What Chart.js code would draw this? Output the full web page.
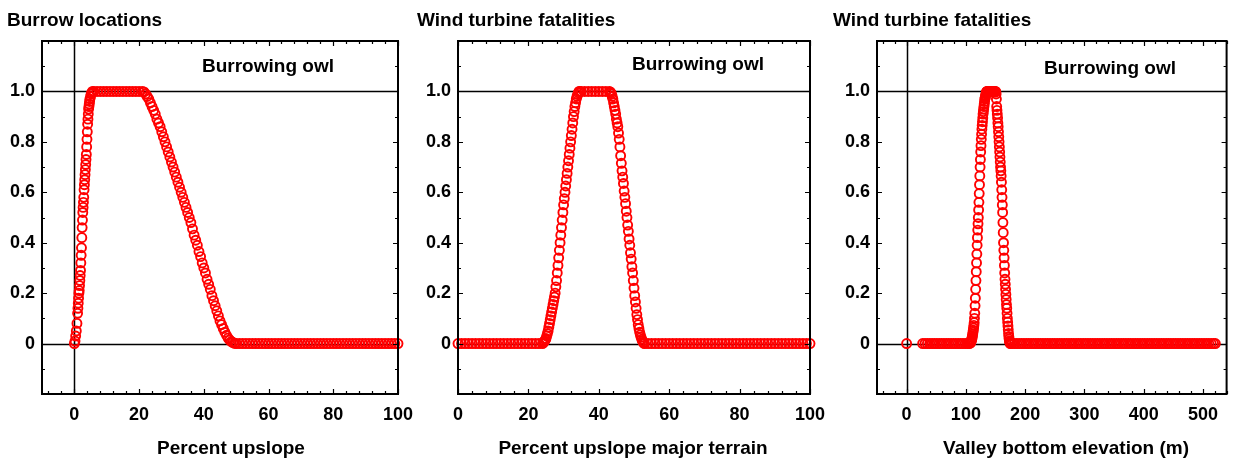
<!DOCTYPE html>
<html>
<head>
<meta charset="utf-8">
<script src="https://cdn.jsdelivr.net/npm/chart.js@4.4.1/dist/chart.umd.min.js"></script>
<style>
  html, body { margin: 0; padding: 0; background: #fff; }
  #wrap { position: relative; width: 1233px; height: 461px; overflow: hidden; background: #fff; }
  #wrap canvas { position: absolute; top: 0; }
</style>
</head>
<body>
<div id="wrap">
  <canvas id="c1" width="440" height="461" style="left:0px"></canvas>
  <canvas id="c2" width="440" height="461" style="left:411px"></canvas>
  <canvas id="c3" width="411" height="461" style="left:822px"></canvas>
</div>
<script>
// ---- Burrow locations vs percent upslope ----
const upslopeX = [
  0, 0.2, 0.4, 0.6, 0.8, 1.0, 1.1, 1.2, 1.3, 1.4, 1.5, 1.6, 1.7, 1.8, 1.9, 2.0, 2.1, 2.2, 2.3, 2.4,
  2.5, 2.6, 2.7, 2.8, 2.9, 3.0, 3.1, 3.2, 3.3, 3.4, 3.5, 3.6, 3.7, 3.8, 3.9, 4.0, 4.1, 4.2, 4.3, 4.4,
  4.5, 4.6, 4.7, 4.8, 5.0, 5.2, 5.4, 5.6,
  6, 7, 8, 9, 10, 11, 12, 13, 14, 15, 16, 17, 18, 19, 20, 21,
  21.5, 22, 22.5, 23, 23.5, 24, 24.5, 25, 25.5, 26, 26.5, 27, 27.5, 28, 28.5, 29, 29.5, 30, 30.5, 31,
  31.5, 32, 32.5, 33, 33.5, 34, 34.5, 35, 35.5, 36, 36.5, 37, 37.5, 38, 38.5, 39, 39.5, 40, 40.5, 41,
  41.5, 42, 42.5, 43, 43.5, 44, 44.5, 45, 45.5, 46, 46.5, 47, 47.5, 48, 48.5, 49, 49.5, 50,
  51, 52, 53, 54, 55, 56, 57, 58, 59, 60, 61, 62, 63, 64, 65, 66, 67, 68, 69, 70, 71, 72, 73, 74, 75,
  76, 77, 78, 79, 80, 81, 82, 83, 84, 85, 86, 87, 88, 89, 90, 91, 92, 93, 94, 95, 96, 97, 98, 99, 100
];
const upslopeY = [
  0, 0.01, 0.03, 0.05, 0.08, 0.12, 0.14, 0.16, 0.18, 0.20, 0.21, 0.23, 0.25, 0.27, 0.29, 0.32, 0.35, 0.38, 0.42, 0.46,
  0.49, 0.52, 0.54, 0.56, 0.58, 0.61, 0.63, 0.65, 0.67, 0.69, 0.71, 0.73, 0.75, 0.78, 0.81, 0.84, 0.87, 0.89, 0.91, 0.93,
  0.94, 0.95, 0.96, 0.97, 0.98, 0.99, 0.995, 1,
  1, 1, 1, 1, 1, 1, 1, 1, 1, 1, 1, 1, 1, 1, 1, 1,
  0.998, 0.99, 0.98, 0.97, 0.955, 0.94, 0.925, 0.91, 0.89, 0.875, 0.86, 0.84, 0.82, 0.80, 0.78, 0.76, 0.74, 0.72, 0.70, 0.68,
  0.66, 0.64, 0.62, 0.60, 0.58, 0.56, 0.54, 0.52, 0.50, 0.48, 0.455, 0.43, 0.41, 0.39, 0.365, 0.345, 0.32, 0.30, 0.28, 0.255,
  0.235, 0.215, 0.19, 0.17, 0.15, 0.13, 0.11, 0.09, 0.075, 0.06, 0.045, 0.033, 0.022, 0.014, 0.008, 0.004, 0.001, 0,
  0, 0, 0, 0, 0, 0, 0, 0, 0, 0, 0, 0, 0, 0, 0, 0, 0, 0, 0, 0, 0, 0, 0, 0, 0,
  0, 0, 0, 0, 0, 0, 0, 0, 0, 0, 0, 0, 0, 0, 0, 0, 0, 0, 0, 0, 0, 0, 0, 0, 0
];

// ---- Wind turbine fatalities vs percent upslope of major terrain ----
const terrainX = [
  0, 1, 2, 3, 4, 5, 6, 7, 8, 9, 10, 11, 12, 13, 14, 15, 16, 17, 18, 19, 20, 21, 22, 23, 24,
  24.2, 24.4, 24.6, 24.8, 25, 25.2, 25.4, 25.6, 25.8, 26, 26.2, 26.4, 26.6, 26.8, 27, 27.2, 27.4, 27.6, 27.8, 28,
  28.2, 28.4, 28.6, 28.8, 29, 29.2, 29.4, 29.6, 29.8, 30, 30.2, 30.4, 30.6, 30.8, 31, 31.2, 31.4, 31.6, 31.8, 32,
  32.2, 32.4, 32.6, 32.8, 33, 33.2, 33.4, 33.6, 33.8, 34, 34.2, 34.4, 34.6,
  35, 36, 37, 38, 39, 40, 41, 42, 43,
  43.2, 43.4, 43.6, 43.8, 44, 44.2, 44.4, 44.6, 44.8, 45, 45.2, 45.4, 45.6, 45.8, 46, 46.2, 46.4, 46.6, 46.8, 47,
  47.2, 47.4, 47.6, 47.8, 48, 48.2, 48.4, 48.6, 48.8, 49, 49.2, 49.4, 49.6, 49.8, 50, 50.2, 50.4, 50.6, 50.8, 51,
  51.2, 51.4, 51.6, 51.8, 52, 52.2, 52.4, 52.6, 52.8, 53,
  54, 55, 56, 57, 58, 59, 60, 61, 62, 63, 64, 65, 66, 67, 68, 69, 70, 71, 72, 73, 74, 75, 76, 77,
  78, 79, 80, 81, 82, 83, 84, 85, 86, 87, 88, 89, 90, 91, 92, 93, 94, 95, 96, 97, 98, 99, 100
];
const terrainY = [
  0, 0, 0, 0, 0, 0, 0, 0, 0, 0, 0, 0, 0, 0, 0, 0, 0, 0, 0, 0, 0, 0, 0, 0, 0,
  0.003, 0.006, 0.01, 0.015, 0.02, 0.03, 0.04, 0.05, 0.065, 0.08, 0.095, 0.11, 0.125, 0.14, 0.155, 0.17, 0.185, 0.20, 0.225, 0.25,
  0.28, 0.31, 0.34, 0.37, 0.40, 0.43, 0.46, 0.49, 0.52, 0.55, 0.575, 0.60, 0.625, 0.65, 0.675, 0.70, 0.725, 0.75, 0.775, 0.80,
  0.825, 0.85, 0.875, 0.90, 0.92, 0.94, 0.955, 0.97, 0.98, 0.988, 0.995, 1, 1,
  1, 1, 1, 1, 1, 1, 1, 1, 1,
  0.998, 0.995, 0.99, 0.98, 0.97, 0.955, 0.94, 0.925, 0.91, 0.89, 0.875, 0.86, 0.835, 0.81, 0.78, 0.745, 0.715, 0.685, 0.66, 0.635,
  0.605, 0.58, 0.555, 0.525, 0.50, 0.47, 0.445, 0.415, 0.39, 0.36, 0.335, 0.305, 0.28, 0.25, 0.22, 0.19, 0.165, 0.14, 0.115, 0.095,
  0.075, 0.06, 0.045, 0.035, 0.025, 0.017, 0.01, 0.005, 0.002, 0,
  0, 0, 0, 0, 0, 0, 0, 0, 0, 0, 0, 0, 0, 0, 0, 0, 0, 0, 0, 0, 0, 0, 0, 0,
  0, 0, 0, 0, 0, 0, 0, 0, 0, 0, 0, 0, 0, 0, 0, 0, 0, 0, 0, 0, 0, 0, 0
];

// ---- Wind turbine fatalities vs valley bottom elevation (m) ----
const elevationX = [
  0,
  27, 31, 35, 39, 43, 47, 51, 55, 59, 63, 67, 71, 75, 79, 83, 87, 91, 95, 99, 103, 106,
  108, 108.5, 109, 109.5, 110, 110.5, 111, 111.5, 112, 112.5, 113, 113.5, 114, 114.5, 115, 115.5, 116, 116.5, 117, 117.5,
  118, 118.5, 119, 119.5, 120, 120.5, 121, 121.5, 122, 122.5, 123, 123.5, 124, 124.5, 125, 125.5, 126, 126.5, 127, 127.5,
  128, 128.5, 129, 129.5, 130, 130.5, 131, 131.5, 132, 132.5, 133, 133.5, 134, 134.5, 135, 135.5,
  136, 137, 138, 139, 140, 141, 142, 143, 144, 145, 146, 147, 148, 149, 150,
  150.5, 151, 151.5, 152, 152.5, 153, 153.5, 154, 154.5, 155, 155.5, 156, 156.5, 157, 157.5, 158, 158.5, 159, 159.5, 160,
  160.5, 161, 161.5, 162, 162.5, 163, 163.5, 164, 164.5, 165, 165.5, 166, 166.5, 167, 167.5, 168, 168.5, 169, 169.5, 170,
  170.5, 171, 171.5, 172, 172.5, 173, 173.5, 174, 174.5, 175,
  178, 182, 186, 190, 194, 198, 202, 206, 210, 214, 218, 222, 226, 230, 234, 238, 242, 246, 250, 254,
  258, 262, 266, 270, 274, 278, 282, 286, 290, 294, 298, 302, 306, 310, 314, 318, 322, 326, 330, 334,
  338, 342, 346, 350, 354, 358, 362, 366, 370, 374, 378, 382, 386, 390, 394, 398, 402, 406, 410, 414,
  418, 422, 426, 430, 434, 438, 442, 446, 450, 454, 458, 462, 466, 470, 474, 478, 482, 486, 490, 494,
  498, 502, 506, 510, 514, 518, 521
];
const elevationY = [
  0,
  0, 0, 0, 0, 0, 0, 0, 0, 0, 0, 0, 0, 0, 0, 0, 0, 0, 0, 0, 0, 0,
  0.003, 0.006, 0.01, 0.014, 0.018, 0.024, 0.03, 0.037, 0.045, 0.053, 0.062, 0.072, 0.083, 0.10, 0.12, 0.15, 0.18, 0.215, 0.25, 0.285,
  0.32, 0.355, 0.39, 0.42, 0.45, 0.475, 0.50, 0.53, 0.56, 0.595, 0.63, 0.665, 0.70, 0.73, 0.76, 0.785, 0.81, 0.83, 0.85, 0.865,
  0.88, 0.895, 0.91, 0.92, 0.93, 0.94, 0.95, 0.96, 0.97, 0.975, 0.98, 0.985, 0.99, 0.995, 0.998, 1,
  1, 1, 1, 1, 1, 1, 1, 1, 1, 1, 1, 1, 1, 1, 1,
  0.998, 0.99, 0.97, 0.94, 0.925, 0.91, 0.895, 0.875, 0.86, 0.84, 0.82, 0.80, 0.78, 0.76, 0.74, 0.72, 0.70, 0.685, 0.665, 0.64,
  0.61, 0.58, 0.55, 0.52, 0.48, 0.44, 0.40, 0.37, 0.34, 0.31, 0.28, 0.255, 0.235, 0.215, 0.195, 0.175, 0.155, 0.14, 0.12, 0.10,
  0.085, 0.07, 0.055, 0.04, 0.028, 0.018, 0.01, 0.005, 0.002, 0,
  0, 0, 0, 0, 0, 0, 0, 0, 0, 0, 0, 0, 0, 0, 0, 0, 0, 0, 0, 0,
  0, 0, 0, 0, 0, 0, 0, 0, 0, 0, 0, 0, 0, 0, 0, 0, 0, 0, 0, 0,
  0, 0, 0, 0, 0, 0, 0, 0, 0, 0, 0, 0, 0, 0, 0, 0, 0, 0, 0, 0,
  0, 0, 0, 0, 0, 0, 0, 0, 0, 0, 0, 0, 0, 0, 0, 0, 0, 0, 0, 0,
  0, 0, 0, 0, 0, 0, 0
];

// ---- Tick values and labels ----
const probTicks = [0, 0.2, 0.4, 0.6, 0.8, 1.0];
const probTickLabels = ['0', '0.2', '0.4', '0.6', '0.8', '1.0'];
const percentTicks = [0, 20, 40, 60, 80, 100];
const percentTickLabels = ['0', '20', '40', '60', '80', '100'];
const elevationTicks = [0, 100, 200, 300, 400, 500];
const elevationTickLabels = ['0', '100', '200', '300', '400', '500'];

// ---- Panel texts ----
const panelTitles = ['Burrow locations', 'Wind turbine fatalities', 'Wind turbine fatalities'];
const speciesName = 'Burrowing owl';
const axisTitles = ['Percent upslope', 'Percent upslope major terrain', 'Valley bottom elevation (m)'];

const FONT = '"Liberation Sans", Arial, Helvetica, sans-serif';

// Frame with inward ticks on all four sides, reference lines and panel text.
const panelDecor = {
  id: 'panelDecor',
  beforeDatasetsDraw(chart, args, o) {
    const { ctx, chartArea: a, scales: { x, y } } = chart;
    ctx.save();
    ctx.strokeStyle = '#000';
    ctx.lineWidth = 1.5;
    ctx.beginPath();
    (o.hLines || []).forEach(v => {
      const py = Math.round(y.getPixelForValue(v)) + 0.5;
      ctx.moveTo(a.left, py); ctx.lineTo(a.right, py);
    });
    (o.vLines || []).forEach(v => {
      const px = Math.round(x.getPixelForValue(v)) + 0.5;
      ctx.moveTo(px, a.top); ctx.lineTo(px, a.bottom);
    });
    ctx.stroke();
    ctx.restore();
  },
  afterDraw(chart, args, o) {
    const { ctx, chartArea: a, scales: { x, y } } = chart;
    ctx.save();
    ctx.strokeStyle = '#000';
    ctx.lineWidth = 1.2;
    ctx.beginPath();
    const xTick = (v, len) => {
      const px = Math.round(x.getPixelForValue(v)) + 0.5;
      ctx.moveTo(px, a.bottom); ctx.lineTo(px, a.bottom - len);
      ctx.moveTo(px, a.top); ctx.lineTo(px, a.top + len);
    };
    const yTick = (v, len) => {
      const py = Math.round(y.getPixelForValue(v)) + 0.5;
      ctx.moveTo(a.left, py); ctx.lineTo(a.left + len, py);
      ctx.moveTo(a.right, py); ctx.lineTo(a.right - len, py);
    };
    for (let v = o.xMinorStart; v <= x.max + 1e-9; v += o.xMinor) xTick(v, 3);
    for (let v = y.min; v <= y.max + 1e-9; v += 0.1) yTick(v, 3);
    x.ticks.forEach(t => xTick(t.value, 5));
    y.ticks.forEach(t => yTick(t.value, 5));
    ctx.stroke();

    ctx.lineWidth = 2;
    ctx.strokeRect(a.left, a.top, a.right - a.left, a.bottom - a.top);

    ctx.fillStyle = '#000';
    ctx.textBaseline = 'alphabetic';
    ctx.font = 'bold 19px ' + FONT;
    ctx.textAlign = 'left';
    ctx.fillText(o.title, o.titleX, 26);
    ctx.fillText(o.note, o.noteX, o.noteY);
    ctx.textAlign = 'center';
    ctx.fillText(o.axisTitle, o.axisTitleX, 454);
    ctx.restore();
  }
};

function makePanel(id, cfg) {
  return new Chart(document.getElementById(id), {
    type: 'scatter',
    data: {
      datasets: [{
        data: cfg.xs.map((v, i) => ({ x: v, y: cfg.ys[i] })),
        pointStyle: 'circle',
        pointRadius: 4.5,
        pointBorderWidth: 1.9,
        pointBorderColor: '#ff0000',
        pointBackgroundColor: 'rgba(0,0,0,0)',
        showLine: false,
        clip: false
      }]
    },
    plugins: [panelDecor],
    options: {
      responsive: false,
      animation: false,
      events: [],
      devicePixelRatio: 1,
      layout: { padding: { top: 41, right: cfg.padRight, bottom: 0, left: 0 } },
      plugins: {
        legend: { display: false },
        tooltip: { enabled: false },
        panelDecor: {
          title: cfg.title, titleX: cfg.titleX,
          note: speciesName, noteX: cfg.noteX, noteY: cfg.noteY,
          axisTitle: cfg.axisTitle, axisTitleX: cfg.axisTitleX,
          hLines: [0, 1], vLines: cfg.vLines,
          xMinor: cfg.xMinor, xMinorStart: cfg.xMinorStart
        }
      },
      scales: {
        x: {
          type: 'linear',
          min: cfg.xMin, max: cfg.xMax,
          grid: { display: false, drawTicks: false },
          border: { display: false },
          afterBuildTicks: s => { s.ticks = cfg.xTicks.map(v => ({ value: v })); },
          afterFit: s => { s.height = 67; s.paddingLeft = 0; s.paddingRight = 0; },
          ticks: {
            padding: 10,
            maxRotation: 0,
            autoSkip: false,
            color: '#000',
            font: { family: FONT, size: 18, weight: 'bold' },
            callback: v => cfg.xLabels[cfg.xTicks.indexOf(v)]
          }
        },
        y: {
          type: 'linear',
          min: -0.2, max: 1.2,
          grid: { display: false, drawTicks: false },
          border: { display: false },
          afterBuildTicks: s => { s.ticks = probTicks.map(v => ({ value: v })); },
          afterFit: s => { s.width = cfg.yWidth; s.paddingTop = 0; s.paddingBottom = 0; },
          ticks: {
            padding: 7,
            autoSkip: false,
            color: '#000',
            font: { family: FONT, size: 18, weight: 'bold' },
            callback: v => probTickLabels[probTicks.indexOf(v)]
          }
        }
      }
    }
  });
}

makePanel('c1', {
  xs: upslopeX, ys: upslopeY,
  xMin: -10, xMax: 100, xTicks: percentTicks, xLabels: percentTickLabels,
  xMinor: 4, xMinorStart: -8, vLines: [0],
  yWidth: 42, padRight: 42,
  title: panelTitles[0], titleX: 7, noteX: 202, noteY: 72,
  axisTitle: axisTitles[0], axisTitleX: 231
});
makePanel('c2', {
  xs: terrainX, ys: terrainY,
  xMin: 0, xMax: 100, xTicks: percentTicks, xLabels: percentTickLabels,
  xMinor: 4, xMinorStart: 0, vLines: [],
  yWidth: 47, padRight: 41,
  title: panelTitles[1], titleX: 6, noteX: 221, noteY: 70,
  axisTitle: axisTitles[1], axisTitleX: 222
});
makePanel('c3', {
  xs: elevationX, ys: elevationY,
  xMin: -50, xMax: 540, xTicks: elevationTicks, xLabels: elevationTickLabels,
  xMinor: 20, xMinorStart: -40, vLines: [0],
  yWidth: 55, padRight: 3,
  title: panelTitles[2], titleX: 11, noteX: 222, noteY: 74,
  axisTitle: axisTitles[2], axisTitleX: 244
});
</script>
</body>
</html>
